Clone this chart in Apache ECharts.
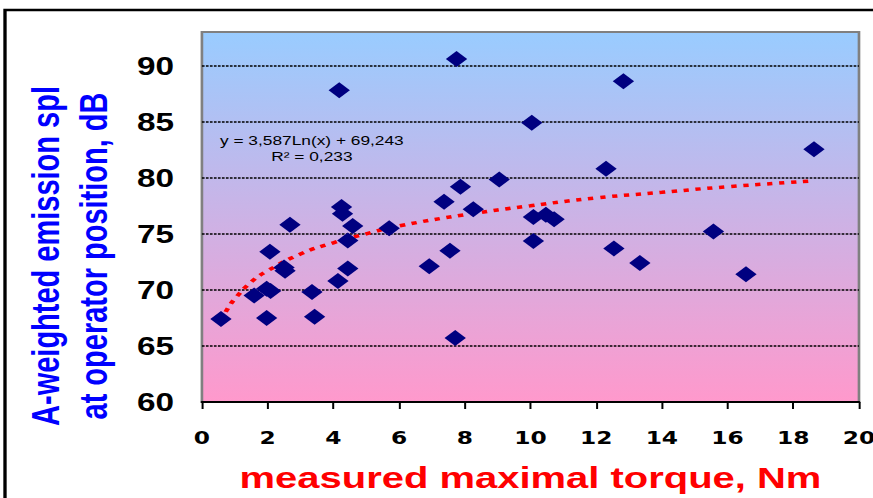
<!DOCTYPE html>
<html>
<head>
<meta charset="utf-8">
<script src="https://cdn.jsdelivr.net/npm/echarts@6/dist/echarts.min.js"></script>
<style>
  html, body { margin: 0; padding: 0; background: #fff; overflow: hidden; }
  /* the original picture is stretched sideways, so draw narrow and widen it */
  #chart { width: 655px; height: 498px; transform: scaleX(1.3328); transform-origin: 0 0; }
</style>
</head>
<body>
<div id="chart"></div>
<script>
// measured points
const torque = [0.58, 1.97, 1.59, 1.97, 2.09, 2.07, 2.50, 2.53, 2.68, 3.35, 3.43, 4.14, 4.44, 4.44,
  4.59, 4.25, 4.28, 4.18, 5.70, 6.92, 7.37, 7.55, 7.71, 7.75, 7.87, 8.26, 9.05, 10.04, 10.09,
  10.09, 10.47, 10.72, 12.54, 13.33, 15.57, 16.56, 12.83, 12.30, 18.63];
const spl = [67.4, 67.5, 69.5, 70.1, 69.9, 73.4, 72.0, 71.7, 75.8, 69.8, 67.6, 70.8, 71.9, 74.4,
  75.7, 77.4, 76.8, 87.8, 75.5, 72.1, 77.85, 73.5, 65.7, 90.6, 79.2, 77.2, 79.85, 84.9, 76.5,
  74.35, 76.7, 76.3, 73.7, 72.4, 75.2, 71.4, 88.6, 80.8, 82.55];

// log trend line
const trendX = [0.58, 0.8, 1, 1.5, 2, 3, 4, 5, 6, 8, 10, 12, 14, 16, 18.5];
const trendY = [67.3, 68.4, 69.2, 70.7, 71.7, 73.2, 74.2, 75.0, 75.7, 76.7, 77.5, 78.2, 78.7, 79.2, 79.7];

const xTitle = 'measured maximal torque, Nm';
const yTitle = 'A-weighted emission spl\nat operator position, dB';
const equation = 'y = 3,587Ln(x) + 69,243\nR² = 0,233';

const points = torque.map((x, i) => [x, spl[i]]);
const trend = trendX.map((x, i) => [x, trendY[i]]);

const myChart = echarts.init(document.getElementById('chart'), null, { renderer: 'svg' });

const option = {
  animation: false,
  backgroundColor: '#fff',
  grid: {
    left: 151.5,
    right: 10.5,
    top: 32,
    bottom: 96,
    containLabel: false,
    outerBoundsMode: 'none',
    show: true,
    borderColor: '#808080',
    borderWidth: 2,
    backgroundColor: new echarts.graphic.LinearGradient(0, 0, 0, 1, [
      { offset: 0, color: '#99ccff' },
      { offset: 1, color: '#ff99cc' }
    ])
  },
  xAxis: {
    type: 'value',
    min: 0,
    max: 20,
    interval: 2,
    name: xTitle,
    nameLocation: 'middle',
    nameGap: 60,
    nameTextStyle: {
      color: '#ff0000',
      fontFamily: 'Liberation Sans, Arial, sans-serif',
      fontWeight: 'bold',
      fontSize: 30
    },
    axisLine: { show: true, onZero: false, lineStyle: { color: '#000', width: 2 } },
    axisTick: { show: true, length: 7, lineStyle: { color: '#000', width: 1.5 } },
    axisLabel: {
      margin: 27,
      color: '#000',
      fontFamily: 'DejaVu Sans, sans-serif',
      fontWeight: 'bold',
      fontSize: 17.5,
      showMaxLabel: true
    },
    splitLine: { show: false }
  },
  yAxis: {
    type: 'value',
    min: 60,
    max: 93,
    interval: 5,
    axisLine: { show: false },
    axisTick: { show: false },
    axisLabel: {
      margin: 21,
      color: '#000',
      fontFamily: 'Liberation Sans, Arial, sans-serif',
      fontWeight: 'bold',
      fontSize: 25,
      showMaxLabel: false,
      formatter: (v) => (v % 5 === 0 ? String(v) : '')
    },
    splitLine: {
      show: true,
      showMinLine: false,
      showMaxLine: false,
      lineStyle: { color: '#000', width: 1.5, type: [2, 1] }
    }
  },
  graphic: [
    {
      type: 'rect',
      silent: true,
      z: -10,
      shape: { x: 3.75, y: 10, width: 700, height: 600 },
      style: { fill: null, stroke: '#000', lineWidth: 2.5 }
    },
    {
      type: 'text',
      silent: true,
      x: 52,
      y: 256,
      rotation: Math.PI / 2,
      style: {
        text: yTitle,
        fill: '#0000ff',
        font: 'bold 29px "Liberation Sans", Arial, sans-serif',
        align: 'center',
        verticalAlign: 'middle',
        lineHeight: 36
      }
    },
    {
      type: 'text',
      silent: true,
      x: 234,
      y: 148.5,
      z: 10,
      style: {
        text: equation,
        fill: '#000',
        font: '13px "Liberation Sans", Arial, sans-serif',
        align: 'center',
        verticalAlign: 'middle',
        lineHeight: 16
      }
    }
  ],
  series: [
    {
      name: 'trend',
      type: 'line',
      data: trend,
      smooth: true,
      showSymbol: false,
      z: 3,
      lineStyle: { color: '#ff0000', width: 3.5, type: [4, 5] }
    },
    {
      name: 'measured',
      type: 'scatter',
      data: points,
      symbol: 'diamond',
      symbolSize: [16, 16],
      z: 4,
      itemStyle: { color: '#000080', opacity: 1 }
    }
  ]
};

myChart.setOption(option);
</script>
</body>
</html>
